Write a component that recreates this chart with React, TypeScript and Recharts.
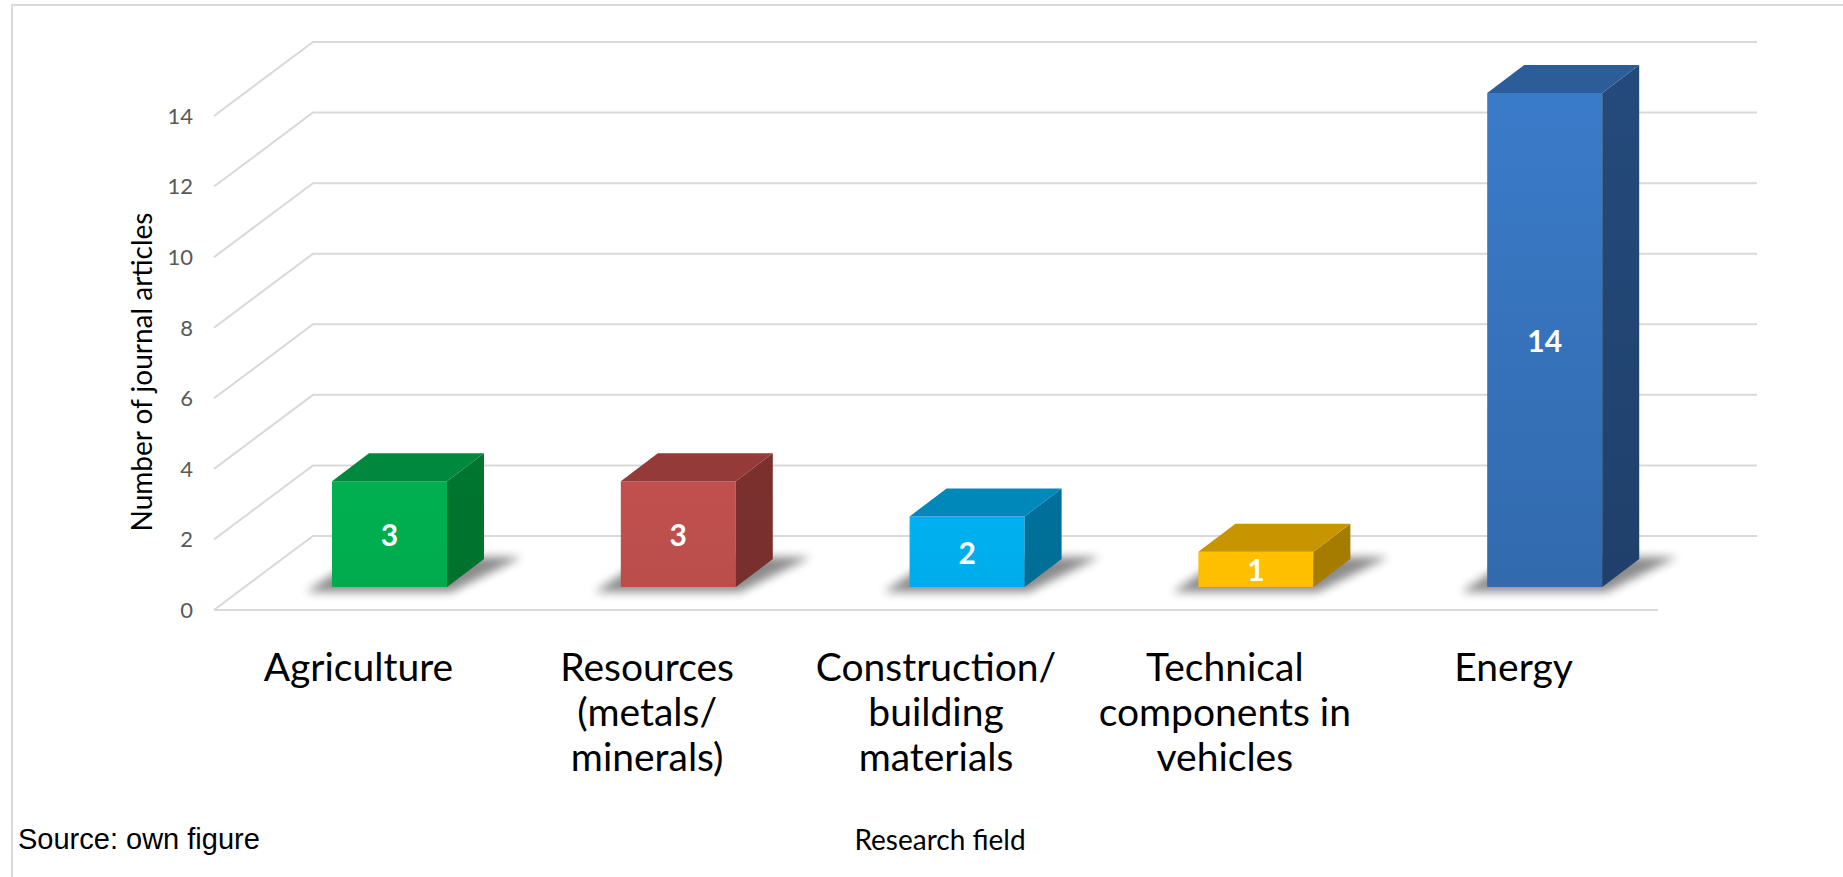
import React from 'react';
import { BarChart, Bar, XAxis, YAxis, CartesianGrid, LabelList, ReferenceLine } from 'recharts';

// ---- data ----
const categories = [
  'Agriculture',
  'Resources (metals/ minerals)',
  'Construction/ building materials',
  'Technical components in vehicles',
  'Energy',
];
const categoryLines = [
  ['Agriculture'],
  ['Resources', '(metals/', 'minerals)'],
  ['Construction/', 'building', 'materials'],
  ['Technical', 'components in', 'vehicles'],
  ['Energy'],
];
const articleCounts = [3, 3, 2, 1, 14];
const yTicks = [0, 2, 4, 6, 8, 10, 12, 14];
const yAxisTitle = 'Number of journal articles';
const xAxisTitle = 'Research field';
const sourceNote = 'Source: own figure';

// ---- styles ----
const frontColors = ['#00B050', '#C0504D', '#00B0F0', '#FFC000', '#3A7BC9'];
const topColors = ['#00893E', '#943A38', '#0088BA', '#C69500', '#2C5D98'];
const sideColors = ['#00752F', '#7B302E', '#00709A', '#A67C00', '#244A7B'];

const data = categories.map((c, i) => ({ category: c, count: articleCounts[i] }));

const BAR_SHIFT = { x: 31, y: -23 };
const BAR_DEPTH = { x: 37, y: -28 };
const BACK = { x: 99, y: -74 };
const GRID_COLOR = '#d9d9d9';
const FONT = 'Lato, "Open Sans", sans-serif';

const Bar3D = (props: any) => {
  const { x, y, width, height, index } = props;
  if (width == null || height == null) return null;
  const x0 = x + BAR_SHIFT.x;
  const top = y + BAR_SHIFT.y;
  const bottom = y + height + BAR_SHIFT.y;
  const dx = BAR_DEPTH.x;
  const dy = BAR_DEPTH.y;
  const bg = props.background;
  const full = bg && bg.height ? bg.height : height;
  const shadeAmount = 0.14 * Math.min(1, height / full);
  const front = `M${x0},${top} H${x0 + width} V${bottom} H${x0} Z`;
  const topFace = `M${x0},${top} L${x0 + dx},${top + dy} H${x0 + width + dx} L${x0 + width},${top} Z`;
  const side = `M${x0 + width},${top} L${x0 + width + dx},${top + dy} V${bottom + dy} L${x0 + width},${bottom} Z`;
  const shadow = `M${x0 - 26},${bottom + 5} L${x0 + width + 4},${bottom + 5} L${x0 + width + dx + 38},${bottom + dy - 2} L${x0 + dx - 10},${bottom + dy - 2} Z`;
  const gid = `shade${index}`;
  return (
    <g>
      <defs>
        <filter id={`blur${index}`} x="-50%" y="-100%" width="200%" height="300%">
          <feGaussianBlur stdDeviation="5" />
        </filter>
        <linearGradient id={gid} gradientUnits="userSpaceOnUse" x1="0" y1={top} x2="0" y2={bottom}>
          <stop offset="0" stopColor="#000" stopOpacity={0} />
          <stop offset="1" stopColor="#000" stopOpacity={shadeAmount} />
        </linearGradient>
      </defs>
      <path d={shadow} fill="#000" opacity={0.45} filter={`url(#blur${index})`} />
      <path d={front} fill={frontColors[index]} />
      <path d={front} fill={`url(#${gid})`} />
      <path d={side} fill={sideColors[index]} />
      <path d={side} fill={`url(#${gid})`} />
      <path d={topFace} fill={topColors[index]} />
    </g>
  );
};

const ValueLabel = (props: any) => {
  const vb = props.viewBox && props.viewBox.width != null ? props.viewBox : props;
  const { x, y, width, height } = vb;
  return (
    <text
      x={x + width / 2 + BAR_SHIFT.x}
      y={y + height / 2 + BAR_SHIFT.y}
      textAnchor="middle"
      dominantBaseline="central"
      fill="#ffffff"
      fontWeight="bold"
      fontSize={30}
      fontFamily={FONT}
    >
      {props.value}
    </text>
  );
};

const GridLine = (props: any) => {
  const { x1, y1, x2 } = props;
  return (
    <path
      key={props.key}
      d={`M${x1},${y1} L${x1 + BACK.x},${y1 + BACK.y} L${x2 + BACK.x},${y1 + BACK.y}`}
      stroke={GRID_COLOR}
      strokeWidth={2}
      fill="none"
    />
  );
};

const CategoryTick = (props: any) => {
  const { x, y, index } = props;
  const lines = categoryLines[index] || [String(props.payload?.value ?? '')];
  return (
    <text x={x} y={y} textAnchor="middle" fill="#000" fontSize={39} fontFamily={FONT}>
      {lines.map((l: string, i: number) => (
        <tspan key={i} x={x} dy={i === 0 ? 69 : 45}>
          {l}
        </tspan>
      ))}
    </text>
  );
};

export default function App() {
  return (
    <div style={{ position: 'absolute', left: 0, top: 0, width: 1843, height: 877, background: '#fff', overflow: 'hidden' }}>
      <div style={{ position: 'absolute', left: 11, top: 4, width: 2000, height: 2, background: GRID_COLOR }} />
      <div style={{ position: 'absolute', left: 11, top: 4, width: 2, height: 1000, background: GRID_COLOR }} />
      <div style={{ position: 'absolute', left: 0, top: 0 }}>
        <BarChart
          width={1843}
          height={877}
          data={data}
          margin={{ top: 116, right: 185, bottom: 147, left: 0 }}
          barSize={115}
        >
          <CartesianGrid vertical={false} horizontal={GridLine as any} />
          <YAxis
            domain={[0, 14]}
            ticks={yTicks}
            interval={0}
            width={214}
            axisLine={false}
            tickLine={false}
            tickSize={0}
            tickMargin={21}
            tick={{ fill: '#595959', fontSize: 22, fontFamily: FONT }}
          />
          <XAxis
            dataKey="category"
            interval={0}
            height={120}
            axisLine={false}
            tickLine={false}
            tickSize={0}
            tick={<CategoryTick />}
          />
          <ReferenceLine y={0} stroke={GRID_COLOR} strokeWidth={2} />
          <Bar dataKey="count" shape={<Bar3D />} isAnimationActive={false}>
            <LabelList dataKey="count" content={<ValueLabel />} />
          </Bar>
        </BarChart>
      </div>
      <div
        style={{
          position: 'absolute',
          left: 141,
          top: 372,
          transform: 'translate(-50%, -50%) rotate(-90deg)',
          whiteSpace: 'nowrap',
          fontFamily: FONT,
          fontSize: 28,
          color: '#000',
        }}
      >
        {yAxisTitle}
      </div>
      <div
        style={{
          position: 'absolute',
          left: 940,
          top: 839,
          transform: 'translate(-50%, -50%)',
          whiteSpace: 'nowrap',
          fontFamily: FONT,
          fontSize: 28,
          color: '#000',
        }}
      >
        {xAxisTitle}
      </div>
      <div
        style={{
          position: 'absolute',
          left: 16,
          top: 839,
          transform: 'translate(0, -50%)',
          whiteSpace: 'nowrap',
          fontFamily: '"Liberation Sans", Arial, sans-serif',
          fontSize: 29,
          color: '#000',
          background: '#fff',
          paddingLeft: 2,
        }}
      >
        {sourceNote}
      </div>
    </div>
  );
}
